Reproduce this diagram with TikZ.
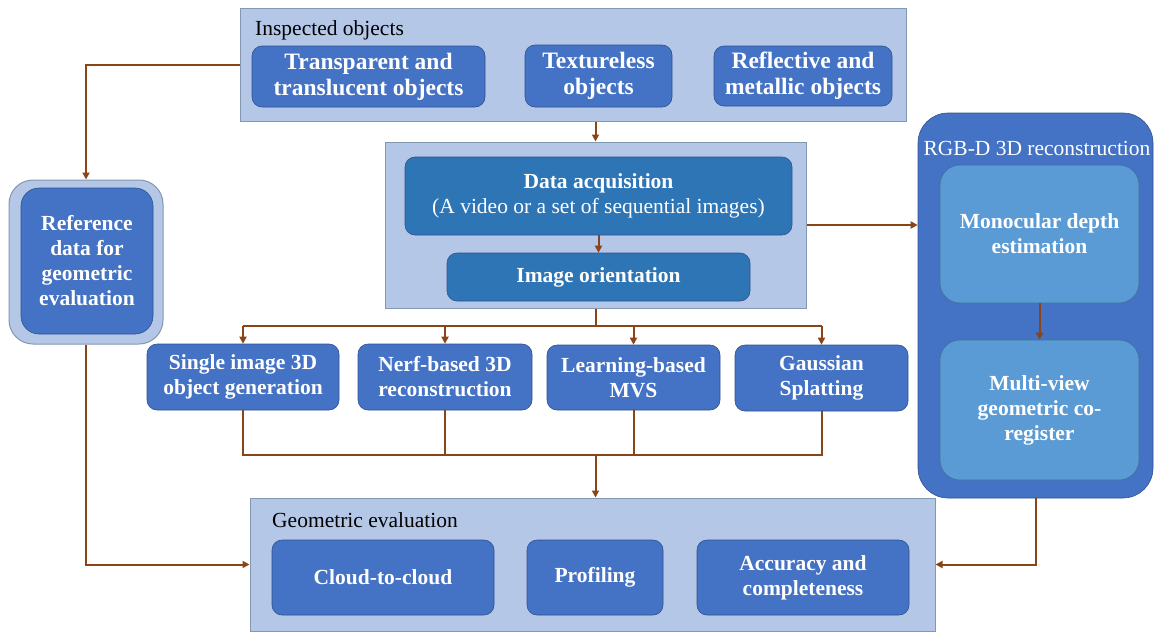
\documentclass[tikz,border=0pt]{standalone}
\usepackage{fontspec}
\setmainfont{Liberation Serif}
\usetikzlibrary{arrows.meta,positioning}
\definecolor{panelfill}{HTML}{B4C7E7}
\definecolor{paneldraw}{HTML}{8497B0}
\definecolor{boxfill}{HTML}{4472C4}
\definecolor{boxdraw}{HTML}{2F528F}
\definecolor{darkfill}{HTML}{2E75B6}
\definecolor{lightfill}{HTML}{5B9BD5}
\definecolor{lightdraw}{HTML}{41719C}
\definecolor{wire}{HTML}{8A4418}
\tikzset{
  panel/.style={draw=paneldraw, fill=panelfill, line width=1pt, inner sep=0pt},
  box/.style={draw=boxdraw, fill=boxfill, rounded corners=10pt, line width=0.6pt,
    text=white, align=center, inner sep=0pt,
    font=\fontsize{21.5}{25}\selectfont\bfseries},
  bigbox/.style={box, font=\fontsize{23.5}{26}\selectfont\bfseries},
  darkbox/.style={box, fill=darkfill},
  lightbox/.style={box, fill=lightfill, draw=lightdraw, rounded corners=20pt},
  title/.style={font=\fontsize{21.5}{25}\selectfont, inner sep=0pt},
  link/.style={draw=wire, line width=2pt},
  arrow/.style={link, -{Triangle[length=7pt,width=7pt]}},
}
\begin{document}
\begin{tikzpicture}[x=1pt,y=-1pt]
\useasboundingbox (0,0) rectangle (1156,632);

% top panel: inspected objects
\node[panel, minimum width=666pt, minimum height=113pt] (ins) at (573,64.5) {};
\node[title, anchor=base west] (inslbl) at (255,35) {Inspected objects};
\node[bigbox, minimum width=233pt, minimum height=61pt] (trans) at (368.5,76.5) {Transparent and\\translucent objects};
\node[bigbox, minimum width=147pt, minimum height=62pt] (tex) at (598.5,76) {Textureless\\objects};
\node[bigbox, minimum width=178pt, minimum height=60pt] (refl) at (803,76) {Reflective and\\metallic objects};

% acquisition panel
\node[panel, minimum width=421pt, minimum height=166pt] (mid) at (595.5,225) {};
\node[darkbox, minimum width=387pt, minimum height=78pt] (da) at (598.5,196)
  {Data acquisition\\{\mdseries (A video or a set of sequential images)}};
\node[darkbox, minimum width=303pt, minimum height=48pt] (io) at (598.5,277) {Image orientation};

% reference data
\node[panel, rounded corners=24pt, minimum width=154pt, minimum height=164pt] (refo) at (86,262) {};
\node[box, rounded corners=18pt, minimum width=132pt, minimum height=146pt] (ref) at (87,261)
  {\fontsize{21.5}{24}\selectfont Reference\\data for\\geometric\\evaluation};

% reconstruction methods
\node[box, minimum width=192pt, minimum height=66pt] (single) at (243,377) {Single image 3D\\object generation};
\node[box, minimum width=174pt, minimum height=66pt] (nerf) at (445,377) {Nerf-based 3D\\reconstruction};
\node[box, minimum width=173pt, minimum height=65pt] (mvs) at (633.5,377.5) {Learning-based\\MVS};
\node[box, minimum width=173pt, minimum height=66pt] (gs) at (821.5,378) {Gaussian\\Splatting};

% RGB-D panel
\node[box, rounded corners=30pt, minimum width=235pt, minimum height=385pt] (rgb) at (1035.5,305.5) {};
\node[title, text=white, anchor=base] (rgblbl) at (1037,155) {RGB-D 3D reconstruction};
\node[lightbox, minimum width=199pt, minimum height=138pt] (mono) at (1039.5,234) {Monocular depth\\estimation};
\node[lightbox, minimum width=199pt, minimum height=140pt] (multi) at (1039.5,410) {Multi-view\\geometric co-\\register};

% geometric evaluation panel
\node[panel, minimum width=685pt, minimum height=133pt] (geo) at (592.5,564.5) {};
\node[title, anchor=base west] (geolbl) at (272,527) {Geometric evaluation};
\node[box, minimum width=222pt, minimum height=75pt] (c2c) at (383,577.5) {Cloud-to-cloud};
\node[box, minimum width=136pt, minimum height=75pt] (prof) at (595,577.5) {Profiling};
\node[box, minimum width=212pt, minimum height=75pt] (acc) at (803,577.5) {Accuracy and\\completeness};

% bus junctions
\coordinate (split) at (595.5,326);
\coordinate (merge) at (595.5,455);

% connectors
\draw[arrow] (ins.west) -| (refo.north);
\draw[arrow] (ins.south -| mid.north) -- (mid.north);
\draw[arrow] (da.south) -- (io.north);
\draw[arrow] (mid.east) -- (mid.east -| rgb.west);
\draw[arrow] (mono.south) -- (multi.north);
\draw[link] (mid.south) -- (split);
\draw[link] (split -| single.north) -- (split -| gs.north);
\foreach \b in {single,nerf,mvs,gs}{
  \draw[arrow] (split -| \b.north) -- (\b.north);
  \draw[link] (\b.south) -- (merge -| \b.south);
}
\draw[link, line cap=rect] (merge -| single.south) -- (merge -| gs.south);
\draw[arrow] (merge) -- (merge |- geo.north);
\draw[arrow] (refo.south) |- (geo.west);
\draw[arrow] (rgb.south) |- (geo.east);
\end{tikzpicture}
\end{document}
